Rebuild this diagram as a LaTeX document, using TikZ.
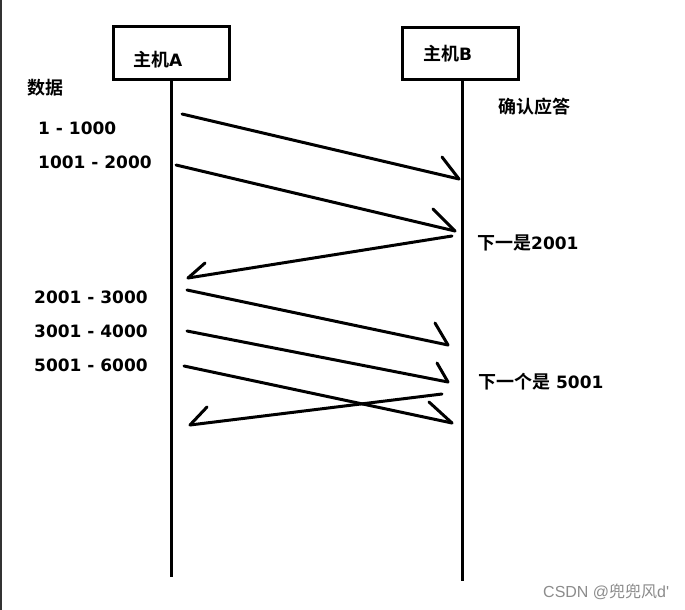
\documentclass[tikz,border=0pt]{standalone}
\usepackage{fontspec}
\newfontfamily\cjk{Noto Sans CJK SC Bold}
\newfontfamily\cjkreg{Noto Sans CJK SC}
\newfontfamily\lat{DejaVu Sans Bold}
\newfontfamily\wmlat{Liberation Sans}
\newcommand{\cj}[1]{{\cjk\fontsize{18}{20}\selectfont #1}}
\newcommand{\la}[1]{{\lat\fontsize{17}{20}\selectfont #1}}
\begin{document}
\begin{tikzpicture}[x=1pt,y=-1pt,
  hostbox/.style={draw, line width=3pt, minimum width=116pt, minimum height=52pt, inner sep=0pt},
  lbl/.style={anchor=west, inner sep=0pt},
  life/.style={line width=3pt},
  msg/.style={line width=3pt, line cap=round},
  wm/.style={anchor=west, inner sep=0pt, text=black!45, font=\fontsize{16}{18}\selectfont}]
\useasboundingbox (0,0) rectangle (685,610);
\fill[white] (0,0) rectangle (685,610);
\draw[line width=1.5pt, black!80] (0.75,0) -- (0.75,610);
% hosts
\node[hostbox] (A) at (171,53) {};
\node[hostbox] (B) at (460,53.5) {};
\node[lbl] (Atxt) at (133,60) {\cj{主机}\la{A}};
\node[lbl] (Btxt) at (423,54) {\cj{主机}\la{B}};
\coordinate (Aend) at (171,577);
\coordinate (Bend) at (462,581);
\draw[life] (A.south -| Aend) -- (Aend);
\draw[life] (B.south -| Bend) -- (Bend);
% labels
\node[lbl] (data) at (27,88) {\cj{数据}};
\node[lbl] (d1) at (38,128) {\la{1 - 1000}};
\node[lbl] (d2) at (38,162) {\la{1001 - 2000}};
\node[lbl] (d3) at (34,297) {\la{2001 - 3000}};
\node[lbl] (d4) at (34,331) {\la{3001 - 4000}};
\node[lbl] (d5) at (34,365) {\la{5001 - 6000}};
\node[lbl] (ack) at (498,107) {\cj{确认应答}};
\node[lbl] (n1) at (477,243) {\cj{下一是}\la{2001}};
\node[lbl] (n2) at (478,382) {\cj{下一个是}\la{ 5001}};
\node[wm] (csdn) at (543,592) {\wmlat CSDN @{\cjkreg 兜兜风}d'};
% message endpoints
\coordinate (s1) at (182,114); \coordinate (t1) at (459,179);
\coordinate (s2) at (176,165); \coordinate (t2) at (455,231);
\coordinate (s3) at (452,236); \coordinate (t3) at (188,278);
\coordinate (s4) at (187,290); \coordinate (t4) at (448,345);
\coordinate (s5) at (187,331); \coordinate (t5) at (448,382);
\coordinate (s6) at (184,366); \coordinate (t6) at (452,423);
\coordinate (s7) at (442,394); \coordinate (t7) at (190,425);
% barb starts
\coordinate (b1) at (442,157);
\coordinate (b2) at (433,209);
\coordinate (b3) at (205,263);
\coordinate (b4) at (435,323);
\coordinate (b5) at (437,363);
\coordinate (b6) at (429,402);
\coordinate (b7) at (207,407);
% messages
\foreach \i in {1,...,7}{
  \draw[msg] (s\i) -- (t\i);
  \draw[msg] (b\i) -- (t\i);
}
\end{tikzpicture}
\end{document}
